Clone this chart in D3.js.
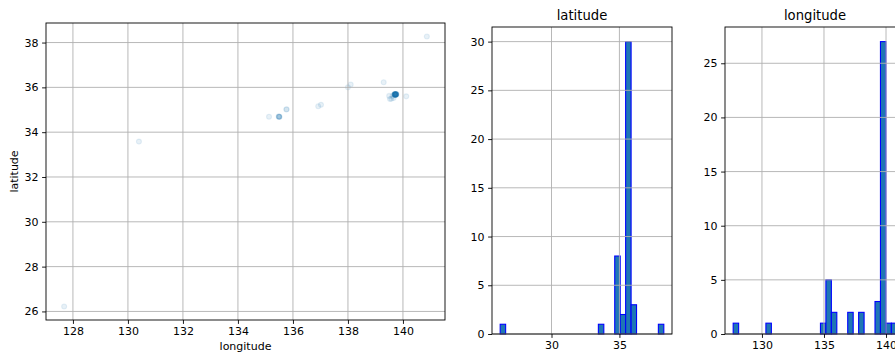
<!DOCTYPE html>
<html>
<head>
<meta charset="utf-8">
<script src="https://cdn.jsdelivr.net/npm/d3@7"></script>
<style>
  body { margin: 0; overflow: hidden; background: #fff; }
  svg { display: block; font-family: "DejaVu Sans", sans-serif; }
</style>
</head>
<body>
<svg id="chart" width="895" height="357"></svg>
<script>
// one entry per location (46 rows)
const longitude = [
  127.68, 130.40, 135.13,
  135.50, 135.49, 135.50, 135.51, 135.48,
  135.76, 135.77,
  136.92, 137.02,
  138.00, 138.10,
  139.30, 139.50, 139.53,
  139.66, 139.62, 139.58,
  139.70, 139.71, 139.72, 139.73, 139.74, 139.75, 139.76, 139.70, 139.71,
  139.72, 139.73, 139.74, 139.75, 139.69, 139.70, 139.72, 139.73, 139.74,
  139.71, 139.72, 139.73, 139.75, 139.76, 139.70,
  140.12, 140.87
];
const latitude = [
  26.22, 33.58, 34.69,
  34.69, 34.70, 34.68, 34.69, 34.70,
  35.01, 35.02,
  35.16, 35.22,
  36.00, 36.13,
  36.23, 35.62, 35.48,
  35.53, 35.62, 35.49,
  35.68, 35.69, 35.67, 35.68, 35.69, 35.70, 35.68, 35.67, 35.66,
  35.69, 35.70, 35.68, 35.67, 35.69, 35.70, 35.68, 35.67, 35.69,
  35.68, 35.66, 35.69, 35.68, 35.70, 35.69,
  35.60, 38.27
];

const BINS = 30;
const latTicks = [30, 35];
const lonTicks = [130, 135, 140];

const BLUE = '#1f77b4';
const GRID = '#b0b0b0';
const svg = d3.select('#chart');

// matplotlib style 5% padding
function padded(ext) {
  const m = (ext[1] - ext[0]) * 0.05;
  return [ext[0] - m, ext[1] + m];
}

function frame(g, x, y, xTicks, yTicks, w, h) {
  const grid = g.append('g');
  grid.selectAll('.gx').data(xTicks).enter().append('line')
    .attr('x1', d => x(d)).attr('x2', d => x(d))
    .attr('y1', 0).attr('y2', h)
    .attr('stroke', GRID).attr('stroke-width', 0.9);
  grid.selectAll('.gy').data(yTicks).enter().append('line')
    .attr('y1', d => y(d)).attr('y2', d => y(d))
    .attr('x1', 0).attr('x2', w)
    .attr('stroke', GRID).attr('stroke-width', 0.9);

  const xa = g.append('g')
    .attr('transform', `translate(0,${h})`)
    .call(d3.axisBottom(x).tickValues(xTicks).tickSize(3.9).tickPadding(3.5).tickFormat(d3.format('d')));
  const ya = g.append('g')
    .call(d3.axisLeft(y).tickValues(yTicks).tickSize(3.9).tickPadding(3.5).tickFormat(d3.format('d')));
  [xa, ya].forEach(a => {
    a.select('.domain').remove();
    a.selectAll('line').attr('stroke', '#000').attr('stroke-width', 0.9);
    a.selectAll('text').attr('font-size', 11).attr('fill', '#000')
      .attr('font-family', '"DejaVu Sans", sans-serif');
  });

  g.append('rect')
    .attr('width', w).attr('height', h)
    .attr('fill', 'none').attr('stroke', '#000').attr('stroke-width', 0.9);
}

// ---- scatter
(function () {
  const L = 46, R = 445, T = 23, B = 320;
  const w = R - L, h = B - T;
  const x = d3.scaleLinear().domain(padded(d3.extent(longitude))).range([0, w]);
  const y = d3.scaleLinear().domain(padded(d3.extent(latitude))).range([h, 0]);
  const g = svg.append('g').attr('transform', `translate(${L},${T})`);

  g.append('g').selectAll('circle')
    .data(d3.range(longitude.length))
    .enter().append('circle')
    .attr('cx', i => x(longitude[i]))
    .attr('cy', i => y(latitude[i]))
    .attr('r', 2.5)
    .attr('fill', BLUE).attr('fill-opacity', 0.1)
    .attr('stroke', BLUE).attr('stroke-opacity', 0.1).attr('stroke-width', 1.1);

  frame(g, x, y, d3.range(128, 141, 2), d3.range(26, 39, 2), w, h);

  g.append('text')
    .attr('x', w / 2).attr('y', h + 30)
    .attr('text-anchor', 'middle').attr('font-size', 11)
    .text('longitude');
  g.append('text')
    .attr('transform', `translate(${18 - L},${h / 2}) rotate(-90)`)
    .attr('text-anchor', 'middle').attr('font-size', 11)
    .text('latitude');
})();

// ---- histograms
function hist(values, title, L, xTicks, yTicks) {
  const T = 27, B = 334, w = 180, h = B - T;
  const ext = d3.extent(values);
  const step = (ext[1] - ext[0]) / BINS;
  const edges = d3.range(1, BINS).map(i => ext[0] + i * step);
  const bins = d3.bin().domain(ext).thresholds(edges)(values);

  const x = d3.scaleLinear().domain(padded(ext)).range([0, w]);
  const y = d3.scaleLinear().domain([0, d3.max(bins, b => b.length) * 1.05]).range([h, 0]);
  const g = svg.append('g').attr('transform', `translate(${L},${T})`);

  g.append('g').selectAll('rect')
    .data(bins.filter(b => b.length > 0))
    .enter().append('rect')
    .attr('x', b => x(b.x0))
    .attr('width', b => x(b.x1) - x(b.x0))
    .attr('y', b => y(b.length))
    .attr('height', b => y(0) - y(b.length))
    .attr('fill', BLUE).attr('stroke', '#0000ff').attr('stroke-width', 1.1);

  frame(g, x, y, xTicks, yTicks, w, h);

  g.append('text')
    .attr('x', w / 2).attr('y', -7)
    .attr('text-anchor', 'middle').attr('font-size', 13.2)
    .text(title);
}

hist(latitude, 'latitude', 492, latTicks, d3.range(0, 31, 5));
hist(longitude, 'longitude', 725, lonTicks, d3.range(0, 26, 5));
</script>
</body>
</html>
